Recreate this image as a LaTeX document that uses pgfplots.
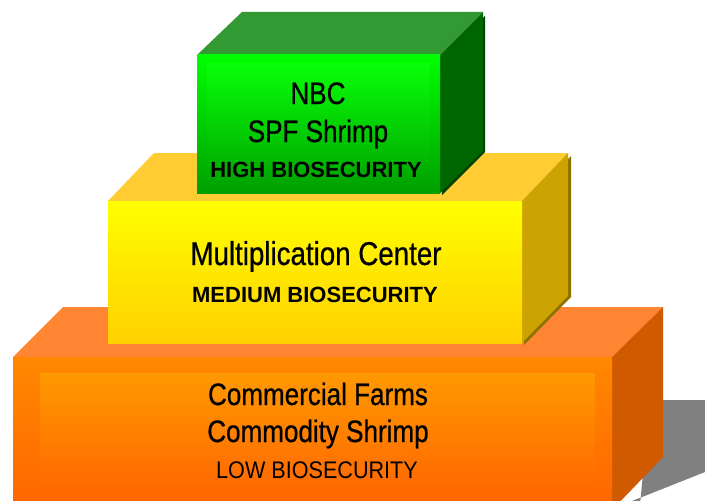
\documentclass[border=0pt]{standalone}
\usepackage{pgfplots}
\pgfplotsset{compat=1.18}
\usepackage{fontspec}
\setmainfont{Liberation Sans}
\newfontfamily\narrow[FakeStretch=0.84,FakeBold=0.6]{Liberation Sans}
\newfontfamily\narrowlow[FakeStretch=0.9]{Liberation Sans}
\definecolor{shadowgray}{HTML}{808080}
\definecolor{otop}{HTML}{FF8533}
\definecolor{oside}{HTML}{D05A00}
\definecolor{ofrontT}{HTML}{FF8800}
\definecolor{ofrontB}{HTML}{FF6600}
\definecolor{oinT}{HTML}{FF9900}
\definecolor{oinB}{HTML}{FF6A00}
\definecolor{ytop}{HTML}{FFCC33}
\definecolor{yside}{HTML}{CCA300}
\definecolor{yedge}{HTML}{8C7000}
\definecolor{yfrontT}{HTML}{FFFF00}
\definecolor{yfrontB}{HTML}{FFD000}
\definecolor{gtop}{HTML}{339933}
\definecolor{gside}{HTML}{006600}
\definecolor{gedge}{HTML}{004400}
\definecolor{gfrontT}{HTML}{00FF00}
\definecolor{gfrontB}{HTML}{009E00}
\definecolor{ginT}{HTML}{08FF08}
\definecolor{ginB}{HTML}{00A400}
\begin{document}
\begin{tikzpicture}
\begin{axis}[
  scale only axis, width=705bp, height=501bp,
  xmin=0, xmax=705, ymin=0, ymax=501, y dir=reverse,
  hide axis, clip=true,
]
% background
\addplot[fill=white, draw=none] coordinates {(0,0) (705,0) (705,501) (0,501)} -- cycle;
% shadow
\addplot[fill=shadowgray, draw=none] coordinates {(650,400) (705,400) (705,472) (622,505) (640,505)} -- cycle;
% orange block
\addplot[fill=otop, draw=none] coordinates {(13,357) (63,307) (663,307) (612,357)} -- cycle;
\addplot[fill=oside, draw=none] coordinates {(612,357) (663,307) (663,457) (612,510)} -- cycle;
\addplot[draw=none, top color=ofrontT, bottom color=ofrontB] coordinates {(13,357) (612,357) (612,510) (13,510)} -- cycle;
\addplot[draw=none, top color=oinT, bottom color=oinB] coordinates {(40,373) (595,373) (595,486) (40,486)} -- cycle;
% yellow block
\addplot[fill=yedge, draw=none] coordinates {(524,345) (571,297) (571,156) (524,204)} -- cycle;
\addplot[fill=ytop, draw=none] coordinates {(108,201) (154,153) (568,153) (522,201)} -- cycle;
\addplot[fill=yside, draw=none] coordinates {(522,201) (568,153) (568,296) (522,343)} -- cycle;
\addplot[draw=none, top color=yfrontT, bottom color=yfrontB] coordinates {(108,201) (522,201) (522,343) (108,343)} -- cycle;
% green block
\addplot[fill=gedge, draw=none] coordinates {(442,195) (485,152) (485,16) (442,57)} -- cycle;
\addplot[fill=gtop, draw=none] coordinates {(197,55) (242,12) (483,12) (440,55)} -- cycle;
\addplot[fill=gside, draw=none] coordinates {(440,55) (483,12) (483,151) (440,193)} -- cycle;
\addplot[draw=none, top color=gfrontT, bottom color=gfrontB] coordinates {(197,55) (440,55) (440,193) (197,193)} -- cycle;
\addplot[draw=none, top color=ginT, bottom color=ginB] coordinates {(207,64) (430,64) (430,185) (207,185)} -- cycle;
% labels
\node[anchor=base, inner sep=0pt] at (axis cs:318,104) {\narrow\fontsize{31bp}{33bp}\selectfont NBC};
\node[anchor=base, inner sep=0pt] at (axis cs:318,142) {\narrow\fontsize{31bp}{33bp}\selectfont SPF Shrimp};
\node[anchor=base, inner sep=0pt] at (axis cs:316,177) {\fontsize{22bp}{24bp}\selectfont\bfseries HIGH BIOSECURITY};
\node[anchor=base, inner sep=0pt] at (axis cs:316,265) {\narrow\fontsize{33bp}{35bp}\selectfont Multiplication Center};
\node[anchor=base, inner sep=0pt] at (axis cs:315,302) {\fontsize{22bp}{24bp}\selectfont\bfseries MEDIUM BIOSECURITY};
\node[anchor=base, inner sep=0pt] at (axis cs:318,405) {\narrow\fontsize{31bp}{33bp}\selectfont Commercial Farms};
\node[anchor=base, inner sep=0pt] at (axis cs:318,442) {\narrow\fontsize{31bp}{33bp}\selectfont Commodity Shrimp};
\node[anchor=base, inner sep=0pt] at (axis cs:317,478) {\narrowlow\fontsize{24bp}{26bp}\selectfont LOW BIOSECURITY};
\end{axis}
\end{tikzpicture}
\end{document}
